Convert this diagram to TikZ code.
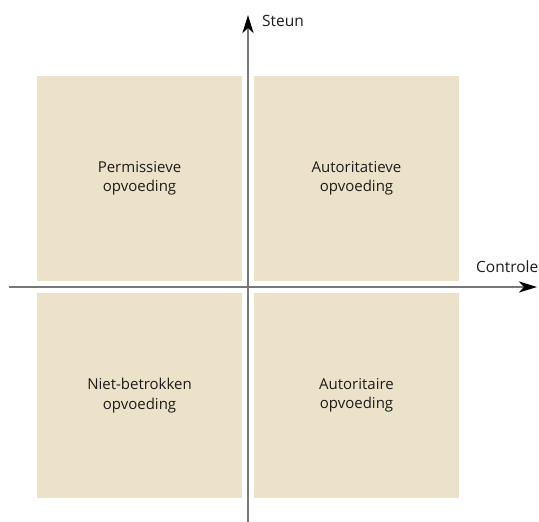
\documentclass[tikz,border=0pt]{standalone}
\usepackage{fontspec}
\setmainfont{Open Sans}
\usetikzlibrary{arrows.meta}
\definecolor{boxfill}{RGB}{236,226,201}
\definecolor{axisgray}{RGB}{120,120,120}
\definecolor{txt}{RGB}{30,28,28}
\begin{document}
\begin{tikzpicture}[x=1pt,y=-1pt,
  quad/.style={fill=boxfill,draw=none,minimum width=205pt,minimum height=205pt,inner sep=0pt,
    text=txt,font=\fontsize{15}{19.5}\selectfont,align=center},
  axis/.style={draw=axisgray,line width=2.6pt,-{Stealth[length=18pt,width=11pt,inset=5pt,color=black]}},
  axlabel/.style={text=txt,font=\fontsize{15.5}{17}\selectfont,inner sep=0pt,anchor=west}]
\useasboundingbox (0,0) rectangle (539,522);
\node[quad] (tl) at (139.5,178.5) {Permissieve\\opvoeding};
\node[quad] (tr) at (356.5,178.5) {Autoritatieve\\opvoeding};
\node[quad] (bl) at (139.5,395.5) {Niet-betrokken\\opvoeding};
\node[quad] (br) at (356.5,395.5) {Autoritaire\\opvoeding};
\coordinate (vbot) at (248,524);
\coordinate (vtop) at (248,15);
\coordinate (hleft) at (9,287);
\coordinate (hright) at (537,287);
\draw[axis] (vbot) -- (vtop);
\draw[axis] (hleft) -- (hright);
\node[axlabel] (steun) at (262,21) {Steun};
\node[axlabel] (controle) at (476,267) {Controle};
\end{tikzpicture}
\end{document}
